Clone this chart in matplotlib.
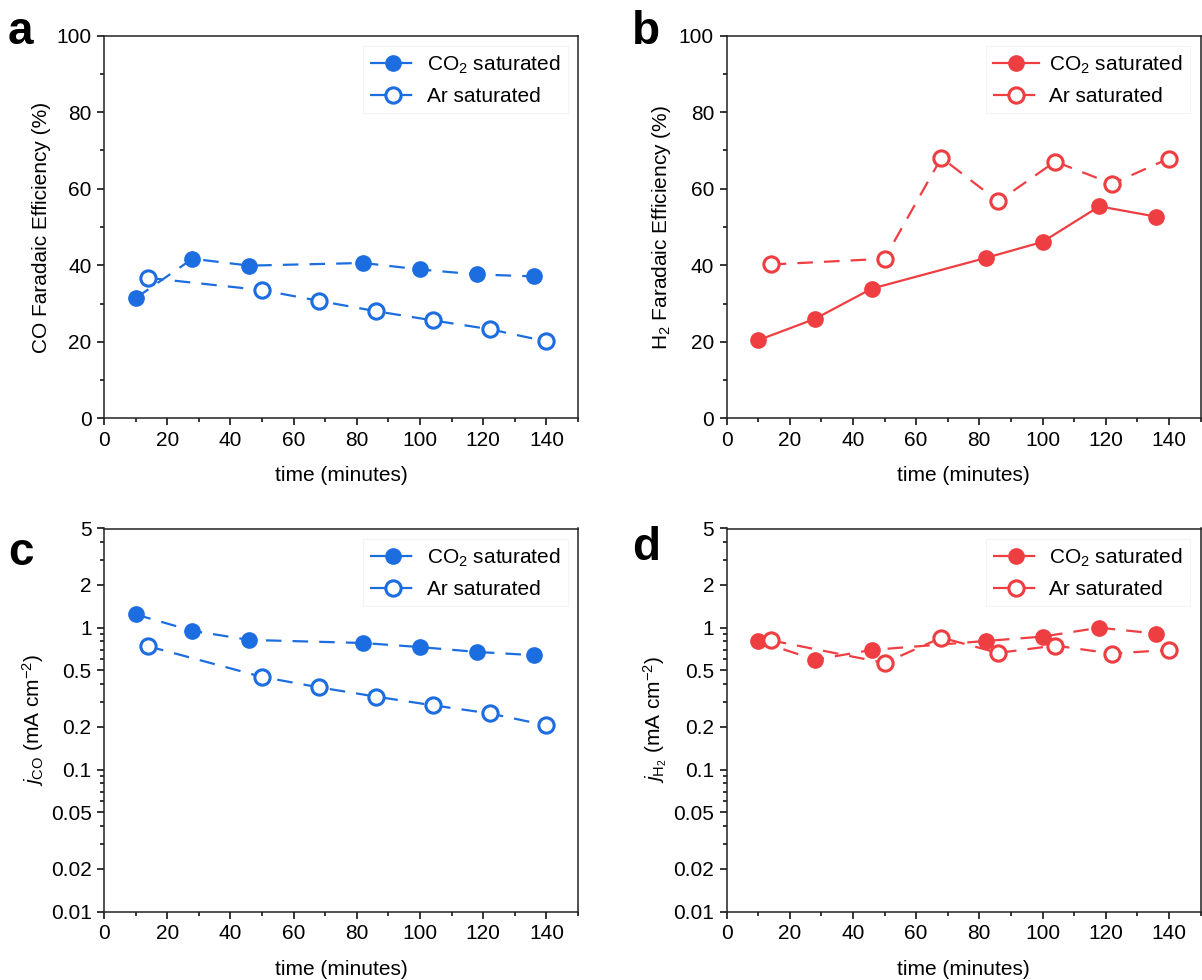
import matplotlib
matplotlib.use("Agg")
import matplotlib.pyplot as plt
from matplotlib.ticker import MultipleLocator, LogLocator, FixedLocator, FixedFormatter, NullFormatter

plt.rcParams['font.family'] = ['Liberation Sans', 'DejaVu Sans']
plt.rcParams['mathtext.fontset'] = 'custom'
plt.rcParams['mathtext.rm'] = 'Liberation Sans'
plt.rcParams['mathtext.it'] = 'Liberation Sans:italic'
plt.rcParams['mathtext.bf'] = 'Liberation Sans:bold'

# ---------------- data ----------------
t_co2 = [10, 28, 46, 82, 100, 118, 136]
t_ar = [14, 50, 68, 86, 104, 122, 140]

fe_co_co2 = [31.4, 41.7, 39.9, 40.6, 38.9, 37.6, 37.1]
fe_co_ar = [36.7, 33.5, 30.7, 28.0, 25.6, 23.3, 20.1]

fe_h2_co2 = [20.4, 26.0, 33.9, 41.9, 46.1, 55.4, 52.7]
fe_h2_ar = [40.2, 41.7, 68.1, 56.7, 67.1, 61.3, 67.9]

j_co_co2 = [1.24, 0.95, 0.82, 0.78, 0.73, 0.675, 0.64]
j_co_ar = [0.74, 0.45, 0.38, 0.327, 0.284, 0.249, 0.205]

j_h2_co2 = [0.806, 0.595, 0.697, 0.806, 0.865, 1.0, 0.908]
j_h2_ar = [0.815, 0.564, 0.851, 0.664, 0.748, 0.657, 0.697]

log_ticks = [0.01, 0.02, 0.05, 0.1, 0.2, 0.5, 1, 2, 5]
log_ticklabels = ['0.01', '0.02', '0.05', '0.1', '0.2', '0.5', '1', '2', '5']

BLUE = '#1c6de0'
RED = '#ef3e42'

FS = 15
W, H = 1202, 980
fig = plt.figure(figsize=(W / 100, H / 100), dpi=100)

def rect(l, r, t, b):
    return [l / W, 1 - b / H, (r - l) / W, (b - t) / H]

ax_a = fig.add_axes(rect(104, 578, 35.7, 418.3))
ax_b = fig.add_axes(rect(726.5, 1200.5, 35.7, 418.3))
ax_c = fig.add_axes(rect(104, 578, 528.5, 911.5))
ax_d = fig.add_axes(rect(726.5, 1200.5, 528.5, 911.5))

DASH = (7, 5)

def plot_pair(ax, ya, yb, color, style_a='--', style_b='--'):
    kw = dict(color=color, lw=1.6, markersize=11)
    la, = ax.plot(t_co2, ya, marker='o', markerfacecolor=color, markeredgecolor=color,
                  label='CO$_2$ saturated', **kw)
    lb, = ax.plot(t_ar, yb, marker='o', markerfacecolor='white', markeredgecolor=color,
                  markeredgewidth=2.2, label='Ar saturated', zorder=3, **kw)
    for ln, st in ((la, style_a), (lb, style_b)):
        if st == '--':
            ln.set_dashes(DASH)
    ax.set_xlim(0, 150)
    ax.xaxis.set_major_locator(MultipleLocator(20))
    ax.xaxis.set_minor_locator(MultipleLocator(10))
    ax.set_xlabel('time (minutes)', fontsize=FS, labelpad=12)
    ax.tick_params(which='major', direction='out', length=5, width=1.1, labelsize=FS, pad=4)
    ax.tick_params(which='minor', direction='out', length=2.6, width=1.1)
    for s in ax.spines.values():
        s.set_linewidth(1.1)
        s.set_color('#222222')
    leg = ax.legend(loc='upper right', fontsize=FS, frameon=True, fancybox=False,
                    edgecolor='#f2f2f2', handlelength=2.2, handletextpad=0.5,
                    labelspacing=0.55, borderaxespad=0.5, borderpad=0.35)
    leg.get_frame().set_linewidth(0.8)

def lin_setup(ax):
    ax.set_ylim(0, 100)
    ax.yaxis.set_major_locator(MultipleLocator(20))
    ax.yaxis.set_minor_locator(MultipleLocator(10))

def log_setup(ax):
    ax.set_yscale('log')
    ax.set_ylim(0.01, 5)
    ax.yaxis.set_major_locator(FixedLocator(log_ticks))
    ax.yaxis.set_major_formatter(FixedFormatter(log_ticklabels))
    ax.yaxis.set_minor_locator(LogLocator(base=10, subs=range(2, 10), numticks=20))
    ax.yaxis.set_minor_formatter(NullFormatter())

plot_pair(ax_a, fe_co_co2, fe_co_ar, BLUE)
lin_setup(ax_a)
ax_a.set_ylabel('CO Faradaic Efficiency (%)', fontsize=FS, labelpad=4)

plot_pair(ax_b, fe_h2_co2, fe_h2_ar, RED, style_a='-')
lin_setup(ax_b)
ax_b.set_ylabel('H$_2$ Faradaic Efficiency (%)', fontsize=FS, labelpad=4)

plot_pair(ax_c, j_co_co2, j_co_ar, BLUE)
log_setup(ax_c)
ax_c.set_ylabel('$j_{\\mathrm{CO}}$ (mA cm$^{-2}$)', fontsize=FS, labelpad=3)

plot_pair(ax_d, j_h2_co2, j_h2_ar, RED)
log_setup(ax_d)
ax_d.set_ylabel('$j_{\\mathrm{H_2}}$ (mA cm$^{-2}$)', fontsize=FS, labelpad=3)

for letter, x, y in (('a', 8, 44), ('b', 632, 44), ('c', 8, 565), ('d', 632, 560)):
    fig.text(x / W, 1 - y / H, letter, fontsize=33, fontweight='bold', ha='left', va='baseline')

fig.savefig('out.png', dpi=100)
